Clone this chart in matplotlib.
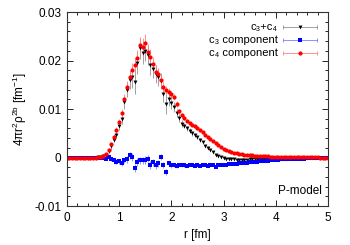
import numpy as np
import matplotlib
matplotlib.use("Agg")
import matplotlib.pyplot as plt
from matplotlib.ticker import MultipleLocator

plt.rcParams['font.family'] = ['Liberation Sans', 'DejaVu Sans']
plt.rcParams['mathtext.default'] = 'regular'
plt.rcParams['font.size'] = 8.5

# r grid [fm], step 0.05
r = np.round(np.arange(101) * 0.05, 2)

# c4 component (red)
c4 = [0, 0, 0, 0, 0, 0, 0, 0, 0, 0, 0, 0,
      0.0001, 0.0002, 0.0004, 0.0008, 0.0016, 0.0027, 0.0043, 0.0056,
      0.0073, 0.0092, 0.0120, 0.0145, 0.0165, 0.0180, 0.0190, 0.0205, 0.0232, 0.0228,
      0.0236, 0.0218, 0.0208, 0.0192, 0.0177, 0.0172, 0.0160, 0.0146, 0.0139, 0.0135,
      0.0130, 0.0125, 0.0110, 0.0095, 0.0087, 0.0082, 0.0076, 0.0071, 0.0068, 0.0064,
      0.0060, 0.0056, 0.0052, 0.0047, 0.0043, 0.0039, 0.0034, 0.0029, 0.0025, 0.0021,
      0.0018, 0.0015, 0.0013, 0.0011, 0.0010, 0.0009, 0.0008, 0.0007, 0.0006, 0.0006,
      0.0005, 0.0005, 0.0004, 0.0004, 0.0004, 0.0003, 0.0003, 0.0003, 0.0002, 0.0002,
      0.0002, 0.0002, 0.0002, 0.0002, 0.0002, 0.0002, 0.0002, 0.0001, 0.0001, 0.0001,
      0.0001, 0.0001, 0.0001, 0.0001, 0.0001, 0.0001, 0.0001, 0.0000, 0.0000, 0.0000,
      0.0000]
c4_err = [0, 0, 0, 0, 0, 0, 0, 0, 0, 0, 0, 0,
          0.0001, 0.0001, 0.0002, 0.0002, 0.0003, 0.0004, 0.0005, 0.0006,
          0.0007, 0.0008, 0.0010, 0.0012, 0.0013, 0.0014, 0.0015, 0.0016, 0.0017, 0.0018,
          0.0018, 0.0017, 0.0016, 0.0015, 0.0013, 0.0012, 0.0011, 0.0010, 0.0009, 0.0008,
          0.0008, 0.0007, 0.0006, 0.0006, 0.0005, 0.0005, 0.0004, 0.0004, 0.0004, 0.0003,
          0.0003, 0.0003, 0.0003, 0.0002, 0.0002, 0.0002, 0.0002, 0.0002, 0.0002, 0.0001,
          0.0001, 0.0001, 0.0001, 0.0001, 0.0001, 0.0001, 0.0001, 0.0001, 0.0001, 0.0001,
          0.0001, 0.0001, 0.0001, 0.0001, 0.0001, 0, 0, 0, 0, 0,
          0, 0, 0, 0, 0, 0, 0, 0, 0, 0,
          0, 0, 0, 0, 0, 0, 0, 0, 0, 0,
          0]

# c3 component (blue)
c3 = [0, 0, 0, 0, 0, 0, 0, 0, 0, 0, 0, 0, 0, 0, 0,
      -0.0002, 0.0001, -0.0004, -0.0006, -0.0009,
      -0.0008, -0.0012, -0.0006, -0.0004, 0.0005, 0.0001, -0.0022, -0.0009, -0.0006, -0.0006,
      -0.0005, -0.0002, -0.0016, -0.0010, -0.0016, -0.0012, 0.0001, -0.0016, -0.0030, -0.0012,
      -0.0016, -0.0015, -0.0017, -0.0015, -0.0016, -0.0016, -0.0017, -0.0016, -0.0016, -0.0017,
      -0.0016, -0.0017, -0.0016, -0.0016, -0.0017, -0.0016, -0.0016, -0.0019, -0.0016, -0.0016,
      -0.0015, -0.0015, -0.0014, -0.0014, -0.0013, -0.0013, -0.0012, -0.0012, -0.0011, -0.0011,
      -0.0010, -0.0010, -0.0009, -0.0009, -0.0008, -0.0008, -0.0007, -0.0007, -0.0006, -0.0006,
      -0.0005, -0.0005, -0.0004, -0.0004, -0.0004, -0.0003, -0.0003, -0.0003, -0.0002, -0.0002,
      -0.0002, -0.0002, -0.0001, -0.0001, -0.0001, -0.0001, -0.0001, -0.0001, 0.0000, 0.0000,
      0.0000]
c3_err = [0, 0, 0, 0, 0, 0, 0, 0, 0, 0, 0, 0, 0, 0, 0,
          0.0001, 0.0002, 0.0003, 0.0004, 0.0005,
          0.0005, 0.0006, 0.0006, 0.0007, 0.0007, 0.0008, 0.0008, 0.0008, 0.0008, 0.0008,
          0.0008, 0.0008, 0.0008, 0.0007, 0.0007, 0.0007, 0.0006, 0.0006, 0.0006, 0.0005,
          0.0005, 0.0004, 0.0004, 0.0003, 0.0003, 0.0003, 0.0003, 0.0002, 0.0002, 0.0002,
          0.0002, 0.0002, 0.0002, 0.0002, 0.0002, 0.0002, 0.0002, 0.0002, 0.0001, 0.0001,
          0.0001, 0.0001, 0.0001, 0.0001, 0.0001, 0.0001, 0.0001, 0.0001, 0.0001, 0.0001,
          0.0001, 0.0001, 0, 0, 0, 0, 0, 0, 0, 0,
          0, 0, 0, 0, 0, 0, 0, 0, 0, 0,
          0, 0, 0, 0, 0, 0, 0, 0, 0, 0,
          0]

# c3+c4 total (black)
c34 = [0, 0, 0, 0, 0, 0, 0, 0, 0, 0, 0, 0,
       0.0001, 0.0002, 0.0004, 0.0006, 0.0014, 0.0023, 0.0037, 0.0047,
       0.0065, 0.0080, 0.0114, 0.0140, 0.0160, 0.0165, 0.0155, 0.0195, 0.0225, 0.0215,
       0.0220, 0.0212, 0.0190, 0.0182, 0.0172, 0.0165, 0.0158, 0.0132, 0.0110, 0.0120,
       0.0112, 0.0104, 0.0092, 0.0082, 0.0070, 0.0066, 0.0060, 0.0055, 0.0050, 0.0046,
       0.0042, 0.0037, 0.0032, 0.0024, 0.0020, 0.0016, 0.0011, 0.0006, 0.0004, 0.0002,
       0.0000, -0.0002, -0.0003, -0.0004, -0.0004, -0.0005, -0.0005, -0.0005, -0.0005, -0.0005,
       -0.0004, -0.0004, -0.0004, -0.0004, -0.0003, -0.0003, -0.0003, -0.0003, -0.0003, -0.0002,
       -0.0002, -0.0002, -0.0002, -0.0002, -0.0002, -0.0001, -0.0001, -0.0001, -0.0001, -0.0001,
       -0.0001, -0.0001, -0.0001, -0.0001, 0.0000, 0.0000, 0.0000, 0.0000, 0.0000, 0.0000,
       0.0000]
c34_err = [0, 0, 0, 0, 0, 0, 0, 0, 0, 0, 0, 0,
           0.0001, 0.0001, 0.0002, 0.0003, 0.0004, 0.0005, 0.0006, 0.0007,
           0.0009, 0.0011, 0.0013, 0.0016, 0.0019, 0.0022, 0.0025, 0.0023, 0.0021, 0.0022,
           0.0022, 0.0021, 0.0020, 0.0019, 0.0018, 0.0017, 0.0016, 0.0017, 0.0020, 0.0014,
           0.0012, 0.0011, 0.0009, 0.0008, 0.0007, 0.0006, 0.0006, 0.0005, 0.0005, 0.0004,
           0.0004, 0.0004, 0.0003, 0.0003, 0.0003, 0.0002, 0.0002, 0.0002, 0.0002, 0.0002,
           0.0001, 0.0001, 0.0001, 0.0001, 0.0001, 0.0001, 0.0001, 0.0001, 0.0001, 0.0001,
           0.0001, 0.0001, 0, 0, 0, 0, 0, 0, 0, 0,
           0, 0, 0, 0, 0, 0, 0, 0, 0, 0,
           0, 0, 0, 0, 0, 0, 0, 0, 0, 0,
           0]

labels = ['c\u2083+c\u2084', 'c\u2083 component', 'c\u2084 component']

fig = plt.figure(figsize=(3.5, 2.45), dpi=100)
ax = fig.add_axes([0.191, 0.159, 0.746, 0.792])

series = [
    (c34, c34_err, 'v', 'black', '#909090', 2.8),
    (c3, c3_err, 's', '#0000ff', '#7f7fff', 2.6),
    (c4, c4_err, 'o', '#ff0000', '#ff8080', 3.0),
]
for y, e, m, col, ecol, ms in series:
    ax.errorbar(r, y, yerr=e, fmt=m, color=col, ecolor=ecol, ms=ms, mew=0,
                elinewidth=0.6, capsize=1.5, capthick=0.6)

ax.set_xlim(0, 5)
ax.set_ylim(-0.01, 0.03)
ax.xaxis.set_major_locator(MultipleLocator(1))
ax.xaxis.set_minor_locator(MultipleLocator(0.2))
ax.yaxis.set_minor_locator(MultipleLocator(0.002))
ax.set_yticks([-0.01, 0, 0.01, 0.02, 0.03])
ax.set_yticklabels(['-0.01', '0', '0.01', '0.02', '0.03'])
ax.tick_params(which='both', direction='in', top=True, right=True, width=0.6)
ax.tick_params(which='major', length=4, labelsize=8.5, pad=4)
ax.tick_params(which='minor', length=2)
for s in ax.spines.values():
    s.set_linewidth(0.8)
    s.set_color('#333333')

ax.set_xlabel('r [fm]', fontsize=8.5, labelpad=4)
ax.set_ylabel(r'4$\pi$r$^2\rho^{2b}$ [fm$^{-1}$]', fontsize=8.5, labelpad=4)

# gnuplot-like key: text right-aligned, sample on the right
key_y = [0.924, 0.857, 0.790]
for ky, lab, (y, e, m, col, ecol, ms) in zip(key_y, labels, series):
    ax.text(0.808, ky, lab, transform=ax.transAxes, ha='right', va='center', fontsize=8)
    ax.plot([0.828, 0.958], [ky, ky], transform=ax.transAxes, color=ecol, lw=0.6)
    ax.plot([0.828, 0.958], [ky, ky], transform=ax.transAxes, ls='none', marker='|',
            color=ecol, ms=3, mew=0.6)
    ax.plot([0.893], [ky], transform=ax.transAxes, marker=m, color=col, ms=ms, mew=0)

ax.text(0.975, 0.075, 'P-model', transform=ax.transAxes, ha='right', va='center', fontsize=8.5)

fig.savefig('out.png', dpi=100)
